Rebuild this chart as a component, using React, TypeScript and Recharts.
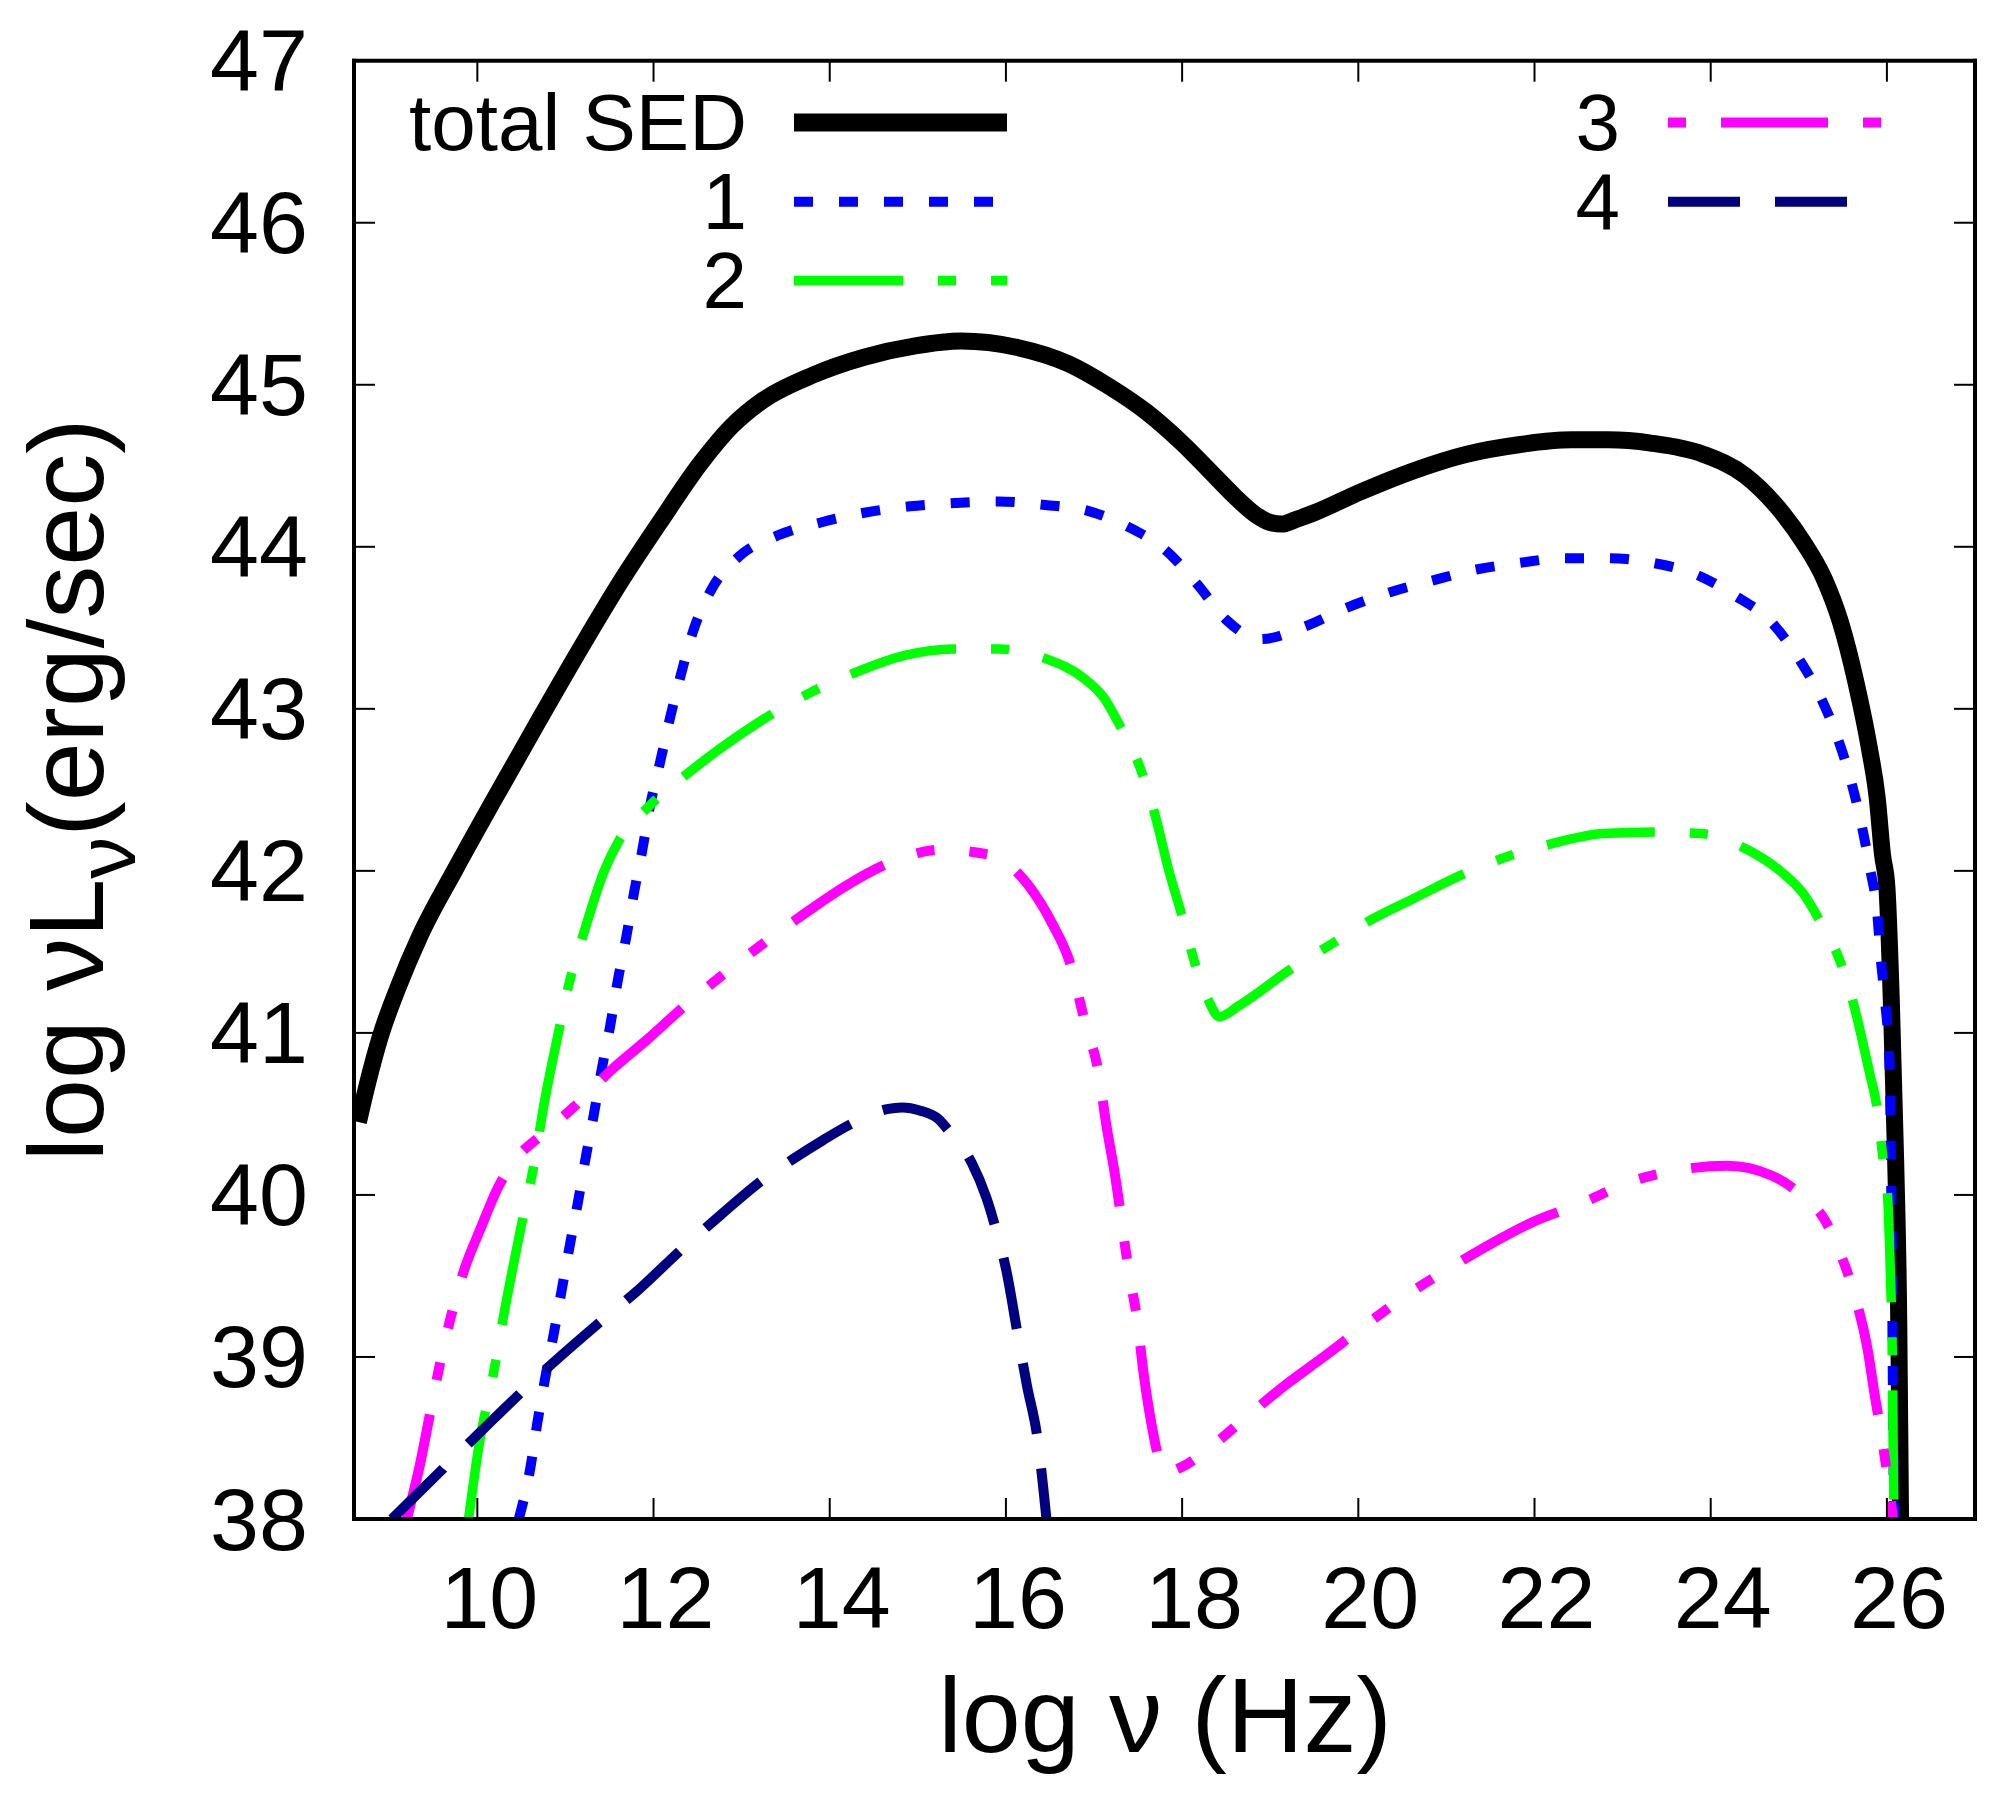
import React from 'react';
import { LineChart, Line, XAxis, YAxis, Legend } from 'recharts';

// ---------- data ----------
const xTicks = [10, 12, 14, 16, 18, 20, 22, 24, 26];
const yTicks = [38, 39, 40, 41, 42, 43, 44, 45, 46, 47];

const totalX = [8.65, 8.75, 8.9, 9.1, 9.35, 9.74, 10.2, 10.7, 11.2, 11.61, 12.07, 12.54, 12.88, 13.23, 13.81, 14.39, 14.97, 15.49, 16.13, 16.71, 17.17, 17.6, 18.0, 18.4, 18.6, 18.83, 19.0, 19.13, 19.3, 19.5, 20.03, 20.63, 21.22, 21.82, 22.42, 22.84, 23.32, 23.92, 24.39, 24.75, 25.05, 25.29, 25.47, 25.65, 25.8, 25.89, 25.95, 26.0, 26.05, 26.1, 26.135, 26.155];
const totalY = [40.45, 40.68, 40.98, 41.28, 41.6, 42.0, 42.45, 42.93, 43.4, 43.77, 44.15, 44.52, 44.74, 44.9, 45.06, 45.17, 45.24, 45.27, 45.23, 45.13, 44.99, 44.83, 44.64, 44.42, 44.31, 44.2, 44.15, 44.14, 44.17, 44.21, 44.34, 44.47, 44.57, 44.63, 44.66, 44.66, 44.64, 44.57, 44.44, 44.25, 44.03, 43.8, 43.54, 43.16, 42.76, 42.45, 42.1, 41.9, 41.2, 40.2, 39.2, 38.0];

const comp1X = [10.47, 10.6, 10.68, 10.77, 10.87, 10.96, 11.05, 11.14, 11.23, 11.32, 11.41, 11.51, 11.59, 11.69, 11.78, 11.87, 11.96, 12.07, 12.19, 12.31, 12.45, 12.65, 12.97, 13.41, 13.9, 14.39, 14.91, 15.42, 15.92, 16.42, 16.94, 17.4, 17.81, 18.17, 18.5, 18.89, 19.4, 19.85, 20.36, 20.83, 21.34, 21.82, 22.34, 22.84, 23.35, 23.83, 24.27, 24.68, 25.0, 25.24, 25.44, 25.59, 25.71, 25.81, 25.89, 25.93, 25.98, 26.03, 26.05, 26.065, 26.08];
const comp1Y = [38.0, 38.31, 38.59, 38.87, 39.15, 39.42, 39.69, 39.95, 40.23, 40.49, 40.77, 41.05, 41.31, 41.59, 41.87, 42.12, 42.4, 42.66, 42.95, 43.21, 43.48, 43.73, 43.94, 44.07, 44.15, 44.21, 44.25, 44.27, 44.28, 44.26, 44.22, 44.12, 43.98, 43.77, 43.55, 43.43, 43.51, 43.62, 43.72, 43.79, 43.86, 43.9, 43.93, 43.93, 43.9, 43.83, 43.7, 43.54, 43.31, 43.08, 42.82, 42.56, 42.29, 42.01, 41.74, 41.46, 41.19, 40.8, 40.0, 39.0, 38.0];

const comp2X = [9.9, 10.02, 10.19, 10.28, 10.51, 10.63, 10.77, 10.92, 11.03, 11.21, 11.44, 11.61, 11.95, 12.36, 12.77, 13.32, 13.78, 14.27, 14.85, 15.4, 15.92, 16.45, 16.88, 17.11, 17.29, 17.52, 17.69, 17.85, 18.0, 18.15, 18.3, 18.42, 18.65, 19.25, 19.7, 20.15, 20.63, 21.19, 21.7, 22.21, 22.78, 23.38, 23.89, 24.42, 24.81, 25.05, 25.25, 25.47, 25.62, 25.8, 25.89, 25.95, 26.01, 26.04, 26.06, 26.07, 26.08];
const comp2Y = [38.0, 38.46, 38.92, 39.2, 39.84, 40.15, 40.6, 41.0, 41.28, 41.62, 42.0, 42.19, 42.4, 42.59, 42.76, 42.96, 43.1, 43.22, 43.33, 43.37, 43.37, 43.31, 43.19, 43.07, 42.9, 42.64, 42.35, 42.0, 41.72, 41.42, 41.2, 41.1, 41.17, 41.4, 41.55, 41.7, 41.83, 41.98, 42.09, 42.17, 42.23, 42.24, 42.23, 42.13, 41.99, 41.86, 41.68, 41.44, 41.18, 40.76, 40.53, 40.25, 39.97, 39.5, 39.05, 38.5, 38.0];

const comp3X = [9.2, 9.35, 9.47, 9.58, 9.7, 9.84, 10.05, 10.22, 10.45, 10.73, 11.09, 11.52, 11.93, 12.36, 12.86, 13.29, 13.75, 14.19, 14.68, 15.26, 15.81, 16.27, 16.53, 16.71, 16.91, 17.05, 17.14, 17.23, 17.4, 17.49, 17.56, 17.635, 17.81, 17.99, 18.29, 18.71, 19.18, 19.58, 20.09, 20.57, 20.98, 21.51, 21.97, 22.54, 23.08, 23.59, 24.19, 24.69, 25.05, 25.29, 25.47, 25.64, 25.78, 25.86, 25.96, 26.07];
const comp3Y = [38.0, 38.34, 38.67, 38.97, 39.25, 39.52, 39.81, 40.03, 40.23, 40.37, 40.54, 40.77, 40.96, 41.17, 41.39, 41.57, 41.75, 41.91, 42.05, 42.13, 42.1, 41.9, 41.67, 41.46, 41.04, 40.76, 40.43, 40.15, 39.51, 39.23, 38.91, 38.64, 38.29, 38.32, 38.43, 38.62, 38.83, 38.99, 39.2, 39.39, 39.53, 39.7, 39.83, 39.95, 40.08, 40.15, 40.18, 40.12, 39.99, 39.85, 39.64, 39.37, 39.05, 38.77, 38.44, 38.0];

const comp4X = [9.03, 9.61, 10.19, 10.77, 11.38, 11.84, 12.31, 12.77, 13.23, 13.58, 13.93, 14.25, 14.65, 14.82, 15.03, 15.23, 15.36, 15.61, 15.78, 15.88, 16.01, 16.13, 16.24, 16.36, 16.43, 16.46];
const comp4Y = [38.0, 38.31, 38.62, 38.92, 39.21, 39.42, 39.66, 39.88, 40.09, 40.22, 40.34, 40.44, 40.53, 40.54, 40.52, 40.47, 40.39, 40.2, 39.98, 39.8, 39.52, 39.15, 38.82, 38.49, 38.16, 38.0];

const zip = (xs: number[], ys: number[]) => xs.map((x, i) => ({ x, y: ys[i] }));

// ---------- styling ----------
const FONT = "'Liberation Sans', Arial, Helvetica, sans-serif";
const CHART_W = 1988;
const CHART_H = 1793;
const PLOT = { left: 346, top: 52.7, right: 1967, bottom: 1511 };

const series = [
  { key: 'total', label: 'total SED', data: zip(totalX, totalY), color: '#000000', width: 17, dash: undefined as string | undefined, legendOffset: 0, col: 0, row: 0 },
  { key: 'c1', label: '1', data: zip(comp1X, comp1Y), color: '#0000ff', width: 10, dash: '19 26', legendOffset: 0, col: 0, row: 1 },
  { key: 'c2', label: '2', data: zip(comp2X, comp2Y), color: '#00ff00', width: 9.5, dash: '109 35 18 35', legendOffset: 0, col: 0, row: 2 },
  { key: 'c3', label: '3', data: zip(comp3X, comp3Y), color: '#ff00ff', width: 10, dash: '107 35 18 35 18 35', legendOffset: 195, col: 1, row: 0 },
  { key: 'c4', label: '4', data: zip(comp4X, comp4Y), color: '#000080', width: 10, dash: '72 35', legendOffset: 0, col: 1, row: 1 },
];

const legendCols = [
  { textX: 739, x1: 786, x2: 999 },
  { textX: 1612, x1: 1660, x2: 1873 },
];
const legendRows = [114.5, 193.7, 272.5];

const renderLegend = () => (
  <svg width={CHART_W} height={320} style={{ display: 'block', pointerEvents: 'none' }}>
    {series.map((s) => {
      const c = legendCols[s.col];
      const y = legendRows[s.row];
      return (
        <g key={s.key}>
          <text x={c.textX} y={y + 27.5} textAnchor="end" fontSize={80} fontFamily={FONT} fill="#000">
            {s.label}
          </text>
          <line
            x1={c.x1}
            x2={c.x2}
            y1={y}
            y2={y}
            stroke={s.color}
            strokeWidth={s.key === 'total' ? 18 : s.width}
            strokeDasharray={s.dash}
            strokeDashoffset={s.legendOffset}
          />
        </g>
      );
    })}
  </svg>
);

const XTick = (props: any) => (
  <text x={props.x + 12} y={1620} textAnchor="middle" fontSize={88} fontFamily={FONT} fill="#000">
    {props.payload.value}
  </text>
);

const YTick = (props: any) => (
  <text x={300} y={props.y + 30.5} textAnchor="end" fontSize={88} fontFamily={FONT} fill="#000">
    {props.payload.value}
  </text>
);

const NoTick = () => <g />;

const XLabel = () => (
  <text x={1157} y={1744} textAnchor="middle" fontSize={106} fontFamily={FONT} fill="#000">
    log ν (Hz)
  </text>
);

const YLabel = () => (
  <text
    x={95}
    y={782}
    transform="rotate(-90 95 782)"
    textAnchor="middle"
    fontSize={106}
    fontFamily={FONT}
    fill="#000"
  >
    log ν<tspan>L</tspan>
    <tspan fontSize={84} dy={32}>ν</tspan>
    <tspan dy={-32}>(erg/sec)</tspan>
  </text>
);

const axisLine = { stroke: '#000', strokeWidth: 4, strokeLinecap: 'square' as const };
const tickLine = { stroke: '#000', strokeWidth: 2 };

export default function App() {
  return (
    <div style={{ width: CHART_W, height: CHART_H, position: 'relative', background: '#fff' }}>
      <LineChart
        width={CHART_W}
        height={CHART_H}
        margin={{ top: PLOT.top - 1, right: CHART_W - PLOT.right - 1, left: 0, bottom: 0 }}
      >
        <XAxis
          xAxisId="b"
          type="number"
          dataKey="x"
          domain={[8.6, 27]}
          allowDataOverflow
          ticks={xTicks}
          interval={0}
          height={CHART_H - PLOT.bottom}
          tickSize={-21}
          axisLine={axisLine}
          tickLine={tickLine}
          tick={XTick}
          label={{ content: XLabel }}
        />
        <XAxis
          xAxisId="t"
          orientation="top"
          type="number"
          dataKey="x"
          domain={[8.6, 27]}
          allowDataOverflow
          ticks={xTicks}
          interval={0}
          height={1}
          tickSize={-21}
          axisLine={axisLine}
          tickLine={tickLine}
          tick={NoTick}
        />
        <YAxis
          yAxisId="l"
          type="number"
          dataKey="y"
          domain={[38, 47]}
          allowDataOverflow
          ticks={yTicks}
          interval={0}
          width={PLOT.left}
          tickSize={-21}
          axisLine={axisLine}
          tickLine={tickLine}
          tick={YTick}
          label={{ content: YLabel }}
        />
        <YAxis
          yAxisId="r"
          orientation="right"
          type="number"
          dataKey="y"
          domain={[38, 47]}
          allowDataOverflow
          ticks={yTicks}
          interval={0}
          width={1}
          tickSize={-21}
          axisLine={axisLine}
          tickLine={tickLine}
          tick={NoTick}
        />
        {series.map((s) => (
          <Line
            key={s.key}
            xAxisId="b"
            yAxisId="l"
            data={s.data}
            dataKey="y"
            type="monotone"
            stroke={s.color}
            strokeWidth={s.width}
            strokeDasharray={s.dash}
            dot={false}
            activeDot={false}
            isAnimationActive={false}
            legendType="none"
          />
        ))}
        <Legend
          layout="horizontal"
          verticalAlign="middle"
          align="center"
          content={renderLegend}
          wrapperStyle={{ position: 'absolute', left: 0, top: 0, width: CHART_W, height: 320, margin: 0, padding: 0 }}
        />
      </LineChart>
    </div>
  );
}
